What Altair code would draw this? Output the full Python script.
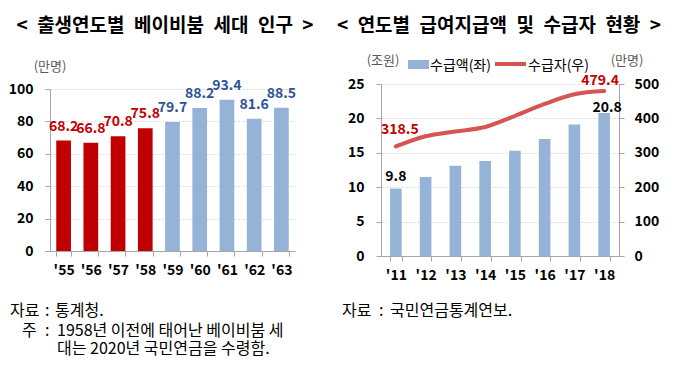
import altair as alt
import pandas as pd

# ---------------- data ----------------
birth_years = ["'55", "'56", "'57", "'58", "'59", "'60", "'61", "'62", "'63"]
births = [68.2, 66.8, 70.8, 75.8, 79.7, 88.2, 93.4, 81.6, 88.5]
pre_1958 = [True, True, True, True, False, False, False, False, False]

pay_years = ["'11", "'12", "'13", "'14", "'15", "'16", "'17", "'18"]
payments = [9.8, 11.5, 13.1, 13.8, 15.3, 17.0, 19.1, 20.8]
recipients = [318.5, 348.0, 362.0, 375.0, 407.0, 442.0, 470.0, 479.4]

left_ticks = [0, 20, 40, 60, 80, 100]
pay_ticks = [0, 5, 10, 15, 20, 25]
rec_ticks = [0, 100, 200, 300, 400, 500]

SP = "\u2002"
title_left = SP.join(["<", "출생연도별", "베이비붐", "세대", "인구", ">"])
title_right = SP.join(["<", "연도별", "급여지급액", "및", "수급자", "현황", ">"])
unit_left = "(만명)"
unit_pay = "(조원)"
unit_rec = "(만명)"
legend_pay = "수급액(좌)"
legend_rec = "수급자(우)"
src_left = "통계청."
note_line1 = "1958년 이전에 태어난 베이비붐 세"
note_line2 = "대는 2020년 국민연금을 수령함."
src_right = "국민연금통계연보."

# ---------------- style ----------------
FONT = "Noto Sans CJK KR"
RED = "#C00000"
BLUE = "#95B3D7"
LBLUE = "#2F5496"
LINE = "#D65452"
AX = "#A6A6A6"
GRID = "#D9D9D9"
GREY = "#595959"

one = pd.DataFrame({"k": [0]})


def note(txt, x, y, size=16, weight="normal", color="#000000", align="left"):
    return alt.Chart(one).mark_text(
        text=txt, align=align, baseline="middle", fontSize=size,
        fontWeight=weight, color=color, font=FONT
    ).encode(x=alt.value(x), y=alt.value(y))


def xaxis():
    return alt.Axis(title=None, labelAngle=0, tickBand="extent", tickSize=5,
                    labelPadding=7, domainColor=AX, tickColor=AX,
                    labelFontSize=14, labelFontWeight="bold", labelColor="#000000",
                    labelFont=FONT, grid=False)


def yaxis(values, orient="left", grid=True, pad=12):
    return alt.Axis(title=None, values=values, orient=orient, grid=grid,
                    gridColor=GRID, gridDash=[2, 2], tickSize=5, labelPadding=pad,
                    domainColor=AX, tickColor=AX, labelFontSize=14,
                    labelFontWeight="bold", labelColor="#000000", labelFont=FONT)


# ---------------- left panel ----------------
W1, H1 = 245, 162
df1 = pd.DataFrame({"year": birth_years, "value": births, "pre": pre_1958})
x1 = alt.X("year:N", sort=birth_years,
           scale=alt.Scale(paddingInner=0.46, paddingOuter=0.23), axis=xaxis())
y1 = alt.Y("value:Q", scale=alt.Scale(domain=[0, 100], nice=False),
           axis=yaxis(left_ticks))
col1 = alt.condition("datum.pre", alt.value(RED), alt.value(BLUE))
lab1 = alt.condition("datum.pre", alt.value(RED), alt.value(LBLUE))

bars1 = alt.Chart(df1).mark_bar().encode(x=x1, y=y1, color=col1)
text1 = alt.Chart(df1).mark_text(baseline="middle", dy=-14, fontSize=14,
                                 fontWeight="bold", font=FONT).encode(
    x=x1, y=y1, text=alt.Text("value:Q", format=".1f"), color=lab1)

left = alt.layer(
    bars1, text1,
    note(title_left, 115, -63, size=19, weight="bold", align="center"),
    note(unit_left, 0, -22, size=13, color=GREY, align="center"),
    note("자료", -40, 222),
    note(":", -5, 222),
    note(src_left, 5, 222),
    note("주", -28, 242),
    note(":", -5, 242),
    note(note_line1, 7, 242),
    note(note_line2, 7, 260),
).properties(width=W1, height=H1)

# ---------------- right panel ----------------
W2, H2 = 238, 172
df2 = pd.DataFrame({"year": pay_years, "pay": payments, "rec": recipients})
x2 = alt.X("year:N", sort=pay_years,
           scale=alt.Scale(paddingInner=0.61, paddingOuter=0.305), axis=xaxis())
y_pay = alt.Y("pay:Q", scale=alt.Scale(domain=[0, 25], nice=False),
              axis=yaxis(pay_ticks))
y_rec = alt.Y("rec:Q", scale=alt.Scale(domain=[0, 500], nice=False),
              axis=yaxis(rec_ticks, orient="right", grid=False, pad=10))

bars2 = alt.Chart(df2).mark_bar(color=BLUE).encode(x=x2, y=y_pay)
t_first = alt.Chart(df2).transform_filter(
    alt.FieldEqualPredicate(field="year", equal="'11")
).mark_text(baseline="middle", dy=-12, fontSize=14, fontWeight="bold",
            color="#000000", font=FONT).encode(
    x=x2, y=y_pay, text=alt.Text("pay:Q", format=".1f"))
t_last = alt.Chart(df2).transform_filter(
    alt.FieldEqualPredicate(field="year", equal="'18")
).mark_text(baseline="middle", dy=-5, dx=3, fontSize=14, fontWeight="bold",
            color="#000000", font=FONT).encode(
    x=x2, y=y_pay, text=alt.Text("pay:Q", format=".1f"))

line2 = alt.Chart(df2).mark_line(color=LINE, strokeWidth=4, interpolate="monotone",
                                 strokeCap="round").encode(x=x2, y=y_rec)
r_first = alt.Chart(df2).transform_filter(
    alt.FieldEqualPredicate(field="year", equal="'11")
).mark_text(baseline="middle", dy=-16, dx=4, fontSize=14, fontWeight="bold",
            color=RED, font=FONT).encode(
    x=x2, y=y_rec, text=alt.Text("rec:Q", format=".1f"))
r_last = alt.Chart(df2).transform_filter(
    alt.FieldEqualPredicate(field="year", equal="'18")
).mark_text(baseline="middle", dy=-10, dx=-4, fontSize=14, fontWeight="bold",
            color=RED, font=FONT).encode(
    x=x2, y=y_rec, text=alt.Text("rec:Q", format=".1f"))

leg_box = alt.Chart(one).mark_rect(color=BLUE).encode(
    x=alt.value(27), x2=alt.value(48), y=alt.value(-24), y2=alt.value(-15))
leg_line = alt.Chart(one).mark_rule(color=LINE, strokeWidth=4).encode(
    x=alt.value(114), x2=alt.value(145), y=alt.value(-20))

right = alt.layer(
    alt.layer(bars2, t_first, t_last),
    alt.layer(line2, r_first, r_last),
    leg_box, leg_line,
    note(legend_pay, 49, -18, size=14),
    note(legend_rec, 147, -18, size=14),
    note(title_right, 118, -58, size=19, weight="bold", align="center"),
    note(unit_pay, 2, -23, size=13, color=GREY, align="center"),
    note(unit_rec, 246, -23, size=13, color=GREY, align="center"),
    note("자료", -39, 227),
    note(":", -2, 227),
    note(src_right, 9, 227),
).resolve_scale(y="independent").properties(width=W2, height=H2)

chart = alt.hconcat(left, right, spacing=86, bounds="flush", center=True).properties(
    padding={"left": 0, "top": 9, "right": 2, "bottom": 2}
).configure(font=FONT).configure_view(stroke=None)

chart.save("out.html", embed_options={"renderer": "svg", "actions": False})
